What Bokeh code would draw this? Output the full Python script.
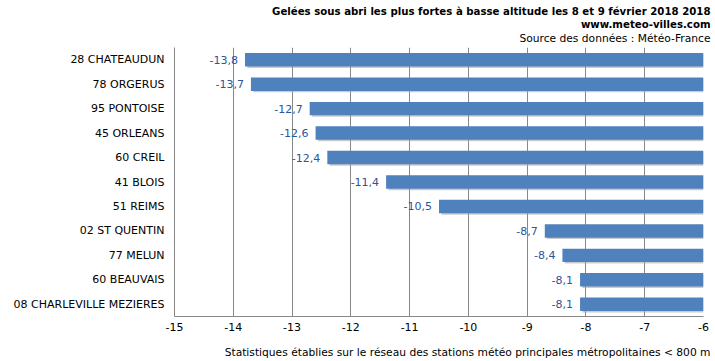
from bokeh.plotting import figure
from bokeh.models import FactorRange, Title, ColumnDataSource, LabelSet, FixedTicker
from bokeh.core.properties import value
from bokeh.transform import dodge
from bokeh.embed import file_html
from bokeh.resources import INLINE

stations = ["28 CHATEAUDUN", "78 ORGERUS", "95 PONTOISE", "45 ORLEANS", "60 CREIL",
            "41 BLOIS", "51 REIMS", "02 ST QUENTIN", "77 MELUN", "60 BEAUVAIS",
            "08 CHARLEVILLE MEZIERES"]
values = [-13.8, -13.7, -12.7, -12.6, -12.4, -11.4, -10.5, -8.7, -8.4, -8.1, -8.1]
value_labels = [f"{v:.1f}".replace(".", ",") for v in values]
x_ticks = [-15, -14, -13, -12, -11, -10, -9, -8, -7, -6]
x_tick_labels = ["-15", "-14", "-13", "-12", "-11", "-10", "-9", "-8", "-7", "-6"]
base = -6

title_text = "Gelées sous abri les plus fortes à basse altitude les 8 et 9 février 2018 2018"
site_text = "www.meteo-villes.com"
source_text = "Source des données : Météo-France"
footer_text = "Statistiques établies sur le réseau des stations météo principales métropolitaines < 800 m"

FONT = "DejaVu Sans"

src = ColumnDataSource(dict(st=stations, v=values, lab=value_labels,
                            base=[base] * len(values),
                            vs=[v + 0.04 for v in values]))

p = figure(width=715, height=361, output_backend="svg", toolbar_location=None,
           y_range=FactorRange(factors=list(reversed(stations))),
           x_range=(-15, -6),
           min_border_left=174, min_border_right=12, min_border_top=47, min_border_bottom=45)
p.outline_line_color = None
p.background_fill_color = "white"

# shadow
p.hbar(y=dodge("st", -0.06, range=p.y_range), left="vs", right="base", height=0.55,
       source=src, fill_color="#a0a0a0", fill_alpha=0.55, line_color=None)
p.hbar(y="st", left="v", right="base", height=0.55, source=src,
       fill_color="#4F81BD", line_color=None)

labels = LabelSet(x="v", y="st", text="lab", source=src, x_offset=-7,
                  text_align="right", text_baseline="middle",
                  text_font=value(FONT), text_font_size="11px", text_color="#2A5699")
p.add_layout(labels)

p.xgrid.ticker = FixedTicker(ticks=x_ticks)
p.xgrid.grid_line_color = "#888888"
p.ygrid.grid_line_color = None

p.xaxis.ticker = FixedTicker(ticks=x_ticks)
p.xaxis.major_label_overrides = {t: l for t, l in zip(x_ticks, x_tick_labels)}
p.xaxis.major_tick_in = 0
p.xaxis.major_tick_out = 0
p.xaxis.minor_tick_line_color = None
p.xaxis.axis_line_color = "#888888"
p.xaxis.major_label_text_font = FONT
p.xaxis.major_label_text_font_size = "11px"
p.xaxis.major_label_text_color = "black"
p.xaxis.major_label_standoff = 6

p.yaxis.major_tick_in = 0
p.yaxis.major_tick_out = 0
p.yaxis.axis_line_color = "#888888"
p.yaxis.major_label_text_font = FONT
p.yaxis.major_label_text_font_size = "11px"
p.yaxis.major_label_text_color = "black"
p.yaxis.major_label_standoff = 10

def mk_title(text, bold=False, standoff=0, size="10.7px"):
    return Title(text=text, align="right", text_font=FONT, text_font_size=size,
                 text_font_style="bold" if bold else "normal", text_color="black",
                 standoff=standoff, offset=-7)

# above: first added is closest to the frame
p.add_layout(mk_title(" ", standoff=0, size="1px"), "above")
p.add_layout(mk_title(source_text), "above")
p.add_layout(mk_title(site_text, bold=True, size="10.2px"), "above")
p.add_layout(mk_title(title_text, bold=True, size="10.2px"), "above")

# below: spacer then footer
p.add_layout(mk_title(" ", standoff=5, size="1px"), "below")
p.add_layout(mk_title(footer_text, standoff=4), "below")

open("out.html", "w").write(file_html(p, INLINE))
